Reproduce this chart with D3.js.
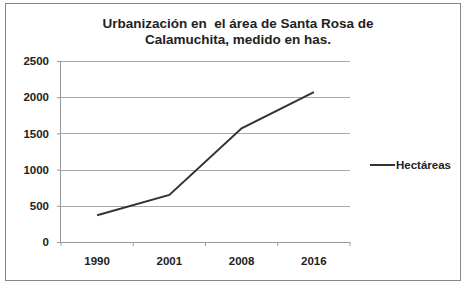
<!DOCTYPE html>
<html>
<head>
<meta charset="utf-8">
<script src="https://cdn.jsdelivr.net/npm/d3@7"></script>
<style>
  body { margin: 0; background: #fff; }
  text { font-family: "Liberation Sans", Arial, sans-serif; fill: #222; }
</style>
</head>
<body>
<div id="chart"></div>
<script>
// Data
var years = ["1990", "2001", "2008", "2016"];
var hectareas = [370, 650, 1570, 2070];
var yTicks = [0, 500, 1000, 1500, 2000, 2500];
var titleLines = ["Urbanización en  el área de Santa Rosa de", "Calamuchita, medido en has."];
var seriesName = "Hectáreas";

var W = 463, H = 285;
var margin = {top: 61, left: 61, right: 113, bottom: 43};
var width = W - margin.left - margin.right,
    height = H - margin.top - margin.bottom;

var svg = d3.select("#chart").append("svg")
    .attr("width", W)
    .attr("height", H);

// outer frame
svg.append("rect")
    .attr("x", 5.5).attr("y", 3.5)
    .attr("width", 455).attr("height", 277)
    .attr("fill", "#fff")
    .attr("stroke", "#888")
    .attr("stroke-width", 1);

// title
svg.append("text")
    .attr("x", 238).attr("y", 28)
    .attr("text-anchor", "middle")
    .style("font-size", "13.5px")
    .style("font-weight", "bold")
    .style("white-space", "pre")
    .selectAll("tspan")
    .data(titleLines)
    .enter().append("tspan")
      .attr("x", 238)
      .attr("dy", function(d, i) { return i ? 16 : 0; })
      .text(function(d) { return d; });

var g = svg.append("g")
    .attr("transform", "translate(" + margin.left + "," + margin.top + ")");

var x = d3.scaleBand().domain(years).range([0, width]);
var y = d3.scaleLinear().domain([0, 2500]).range([height, 0]);

// gridlines
g.selectAll(".grid")
    .data(yTicks.filter(function(d) { return d > 0; }))
    .enter().append("line")
      .attr("x1", 0).attr("x2", width)
      .attr("y1", function(d) { return Math.round(y(d)) + 0.5; })
      .attr("y2", function(d) { return Math.round(y(d)) + 0.5; })
      .attr("stroke", "#aaa");

// Y axis
var yAxis = g.append("g")
    .call(d3.axisLeft(y).tickValues(yTicks).tickSize(4).tickPadding(8).tickFormat(d3.format("d")));
yAxis.select(".domain").attr("stroke", "#999").attr("d", "M-0.5," + height + "V0");
yAxis.selectAll(".tick line").attr("stroke", "#999");
yAxis.selectAll("text").style("font-size", "11.5px").style("font-weight", "bold").attr("fill", "#222");

// X axis
var xAxis = g.append("g")
    .attr("transform", "translate(0," + height + ")")
    .call(d3.axisBottom(x).tickSize(0).tickPadding(15));
xAxis.select(".domain").attr("stroke", "#999").attr("d", "M0,0.5H" + width);
xAxis.selectAll("text").style("font-size", "11.5px").style("font-weight", "bold").attr("fill", "#222");
// tick marks between categories
xAxis.selectAll(".sep")
    .data(years.concat(["end"]))
    .enter().append("line")
      .attr("x1", function(d, i) { return i * x.step(); })
      .attr("x2", function(d, i) { return i * x.step(); })
      .attr("y1", 0).attr("y2", 4)
      .attr("stroke", "#999");

// the line
var line = d3.line()
    .x(function(d, i) { return x(years[i]) + x.bandwidth() / 2; })
    .y(function(d) { return y(d); });

g.append("path")
    .datum(hectareas)
    .attr("fill", "none")
    .attr("stroke", "#333")
    .attr("stroke-width", 2)
    .attr("d", line);

// legend
var legend = svg.append("g").attr("transform", "translate(370,165)");
legend.append("line")
    .attr("x1", 0).attr("x2", 25)
    .attr("stroke", "#333").attr("stroke-width", 2);
legend.append("text")
    .attr("x", 26).attr("y", 4)
    .style("font-size", "11.5px")
    .style("font-weight", "bold")
    .text(seriesName);
</script>
</body>
</html>
